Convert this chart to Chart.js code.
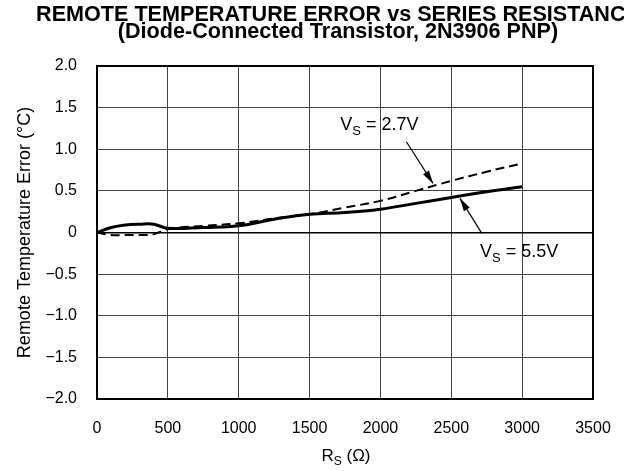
<!DOCTYPE html>
<html><head><meta charset="utf-8">
<script src="https://cdn.jsdelivr.net/npm/chart.js@4"></script>
<style>html,body{margin:0;padding:0;background:#fff;}#wrap{width:624px;height:471px;}</style>
</head><body><div id="wrap"><canvas id="c" width="624" height="471"></canvas></div>
<script>
const rs   = [0, 100, 200, 300, 400, 500, 750, 1000, 1250, 1500, 1750, 2000, 2250, 2500, 2750, 3000];
const v55  = [0, 0.06, 0.09, 0.10, 0.10, 0.05, 0.06, 0.08, 0.16, 0.22, 0.24, 0.28, 0.35, 0.42, 0.49, 0.55];
const v27  = [0, -0.03, -0.03, -0.03, -0.02, 0.04, 0.08, 0.11, 0.17, 0.22, 0.30, 0.38, 0.50, 0.62, 0.73, 0.83];
const xTicks = [0, 500, 1000, 1500, 2000, 2500, 3000, 3500];
const yTicks = [-2, -1.5, -1, -0.5, 0, 0.5, 1, 1.5, 2];
const titleLines = ['REMOTE TEMPERATURE ERROR vs SERIES RESISTANCE', '(Diode-Connected Transistor, 2N3906 PNP)'];
const labels = [
  {main:'V', sub:'S', rest:' = 2.7V', x:1717, y:1.23, from:[2183,1.09], to:[2371,0.59]},
  {main:'V', sub:'S', rest:' = 5.5V', x:2703, y:-0.30, from:[2716,-0.01], to:[2561,0.41]}
];
const FONT = '"Liberation Sans", Arial, Helvetica, sans-serif';

function fmtY(v){
  if (Math.abs(v) < 1e-9) return '0';
  const s = Math.abs(v).toFixed(1);
  return (v < 0 ? '\u2212' : '') + s;
}

function drawSub(ctx, x, y, main, sub, rest, size){
  ctx.font = size + 'px ' + FONT;
  ctx.fillText(main, x, y);
  let w = ctx.measureText(main).width;
  ctx.font = Math.round(size*0.72) + 'px ' + FONT;
  ctx.fillText(sub, x + w, y + size*0.25);
  w += ctx.measureText(sub).width;
  ctx.font = size + 'px ' + FONT;
  ctx.fillText(rest, x + w, y);
  return w + ctx.measureText(rest).width;
}
function subWidth(ctx, main, sub, rest, size){
  ctx.font = size + 'px ' + FONT;
  let w = ctx.measureText(main).width + ctx.measureText(rest).width;
  ctx.font = Math.round(size*0.72) + 'px ' + FONT;
  return w + ctx.measureText(sub).width;
}

const extras = {
  id: 'extras',
  afterDraw(chart){
    const ctx = chart.ctx, xs = chart.scales.x, ys = chart.scales.y, ca = chart.chartArea;
    ctx.save();
    ctx.fillStyle = '#000';
    ctx.strokeStyle = '#000'; ctx.lineWidth = 2;
    ctx.strokeRect(ca.left, ca.top, ca.right - ca.left, ca.bottom - ca.top);
    ctx.font = 'bold 21.6px ' + FONT;
    ctx.textAlign = 'center'; ctx.textBaseline = 'alphabetic';
    ctx.fillText(titleLines[0], 338, 21);
    ctx.fillText(titleLines[1], 338, 38);
    ctx.save();
    ctx.translate(24, (ca.top + ca.bottom)/2);
    ctx.rotate(-Math.PI/2);
    ctx.font = '18px ' + FONT; ctx.textAlign = 'center';
    ctx.fillText('Remote Temperature Error (\u00B0C)', 0, 6);
    ctx.restore();
    ctx.textAlign = 'left';
    const w = subWidth(ctx, 'R', 'S', ' (\u03A9)', 17);
    drawSub(ctx, 346 - w/2, 461, 'R', 'S', ' (\u03A9)', 17);
    labels.forEach(l => {
      ctx.textAlign = 'left';
      drawSub(ctx, xs.getPixelForValue(l.x), ys.getPixelForValue(l.y), l.main, l.sub, l.rest, 18);
      const x1 = xs.getPixelForValue(l.from[0]), y1 = ys.getPixelForValue(l.from[1]);
      const x2 = xs.getPixelForValue(l.to[0]), y2 = ys.getPixelForValue(l.to[1]);
      ctx.lineWidth = 1.2;
      ctx.beginPath(); ctx.moveTo(x1, y1); ctx.lineTo(x2, y2); ctx.stroke();
      const a = Math.atan2(y2 - y1, x2 - x1), L = 13, W = 3.5;
      ctx.beginPath();
      ctx.moveTo(x2, y2);
      ctx.lineTo(x2 - L*Math.cos(a) + W*Math.sin(a), y2 - L*Math.sin(a) - W*Math.cos(a));
      ctx.lineTo(x2 - L*Math.cos(a) - W*Math.sin(a), y2 - L*Math.sin(a) + W*Math.cos(a));
      ctx.closePath(); ctx.fill();
    });
    ctx.restore();
  }
};

new Chart(document.getElementById('c'), {
  type: 'line',
  data: {
    datasets: [
      {label:'VS = 5.5V', data: rs.map((x,i)=>({x, y:v55[i]})), borderColor:'#000', borderWidth:3, pointRadius:0, fill:false, tension:0.4},
      {label:'VS = 2.7V', data: rs.map((x,i)=>({x, y:v27[i]})), borderColor:'#000', borderWidth:2, borderDash:[9,5], pointRadius:0, fill:false, tension:0.4}
    ]
  },
  options: {
    responsive:false, animation:false, devicePixelRatio:1,
    layout:{padding:{top:66, right:31, left:0, bottom:0}},
    plugins:{legend:{display:false}, tooltip:{enabled:false}, title:{display:false}},
    scales:{
      x:{type:'linear', min:0, max:3500,
         afterBuildTicks(s){ s.ticks = xTicks.map(v=>({value:v})); },
         afterFit(s){ s.height = 72; s.paddingLeft = 0; s.paddingRight = 0; },
         grid:{color:'#444', lineWidth:1, drawTicks:false},
         border:{display:false},
         ticks:{color:'#000', padding:20, font:{family:FONT, size:16}, maxRotation:0, callback:(v)=>String(v)}
      },
      y:{type:'linear', min:-2, max:2,
         afterBuildTicks(s){ s.ticks = yTicks.map(v=>({value:v})); },
         afterFit(s){ s.width = 97; s.paddingTop = 0; s.paddingBottom = 0; },
         grid:{color:(c)=> c.tick && c.tick.value === 0 ? '#000' : '#444', lineWidth:(c)=> c.tick && c.tick.value === 0 ? 1.5 : 1, drawTicks:false},
         border:{display:false},
         ticks:{color:'#000', padding:20, font:{family:FONT, size:16}, callback:(v)=>fmtY(v)}
      }
    }
  },
  plugins:[extras]
});
</script></body></html>
